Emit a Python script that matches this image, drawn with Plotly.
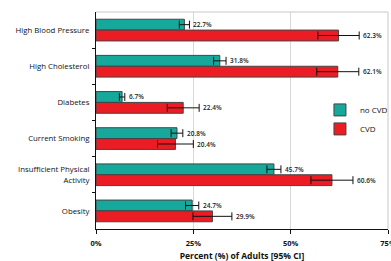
import plotly.graph_objects as go

categories = ["High Blood Pressure", "High Cholesterol", "Diabetes", "Current Smoking",
              "Insufficient Physical<br>Activity", "Obesity"]
no_cvd = [22.7, 31.8, 6.7, 20.8, 45.7, 24.7]
no_cvd_err = [1.3, 1.6, 0.7, 1.5, 1.8, 1.7]
cvd = [62.3, 62.1, 22.4, 20.4, 60.6, 29.9]
cvd_err = [5.3, 5.4, 4.1, 4.6, 5.4, 5.0]
x_ticks = [0, 25, 50, 75]
x_ticklabels = ["0%", "25%", "50%", "75%"]

TEAL = "#16a89b"
RED = "#ec1c24"
bw = 0.3
pos = list(range(len(categories)))

fig = go.Figure()
fig.add_trace(go.Bar(
    y=[p - bw / 2 for p in pos], x=no_cvd, orientation="h", width=bw, name="no CVD",
    marker=dict(color=TEAL, line=dict(color="#444", width=1)),
    error_x=dict(type="data", array=no_cvd_err, color="#111", thickness=1, width=4),
))
fig.add_trace(go.Bar(
    y=[p + bw / 2 for p in pos], x=cvd, orientation="h", width=bw, name="CVD",
    marker=dict(color=RED, line=dict(color="#444", width=1)),
    error_x=dict(type="data", array=cvd_err, color="#111", thickness=1, width=4),
))

for vals, errs, off in [(no_cvd, no_cvd_err, -bw / 2), (cvd, cvd_err, bw / 2)]:
    for p, v, e in zip(pos, vals, errs):
        fig.add_annotation(x=v + e, y=p + off, xref="x", yref="y", text=f"{v:.1f}%",
                           showarrow=False, xanchor="left", yanchor="middle", xshift=2,
                           font=dict(size=6.5, color="#222", family="Open Sans", weight=600))

fig.update_layout(
    width=391, height=261,
    margin=dict(l=96, r=3, t=12, b=32, autoexpand=False),
    paper_bgcolor="white", plot_bgcolor="white",
    font=dict(family="Open Sans", size=8, color="#111"),
    legend=dict(x=0.767, y=0.505, xanchor="left", yanchor="middle",
                font=dict(size=8), bgcolor="rgba(0,0,0,0)", itemwidth=30,
                traceorder="normal", tracegroupgap=0),
    xaxis=dict(range=[0, 75], tickvals=x_ticks, ticktext=x_ticklabels,
               showgrid=True, gridcolor="#d8d8d8", gridwidth=1,
               showline=True, linecolor="#111", linewidth=1,
               ticks="outside", ticklen=4, tickcolor="#111",
               ticklabelstandoff=3, ticklabeloverflow="allow",
               tickfont=dict(size=7.5, family="Open Sans", weight="bold"),
               zeroline=False, mirror=False, automargin=False,
               title=dict(text="<b>Percent (%) of Adults [95% CI]</b>", font=dict(size=8.5), standoff=10)),
    yaxis=dict(range=[5.5, -0.5], tickvals=pos, ticktext=categories,
               showgrid=False, showline=True, linecolor="#111", linewidth=1,
               ticks="", zeroline=False, tickfont=dict(size=7.8), automargin=False,
               ticklabelstandoff=4,
               minor=dict(tickvals=[p + 0.5 for p in pos[:-1]], ticks="outside",
                          ticklen=3, tickcolor="#111", showgrid=False)),
)
fig.add_shape(type="line", xref="paper", yref="paper", x0=0, x1=1, y0=1, y1=1,
              line=dict(color="#c8c8c8", width=1))
fig.add_shape(type="line", xref="paper", yref="paper", x0=1, x1=1, y0=0, y1=1,
              line=dict(color="#c8c8c8", width=1))
fig.write_html("out.html", config={"displayModeBar": False},
               post_script="document.body.style.margin='0';")
